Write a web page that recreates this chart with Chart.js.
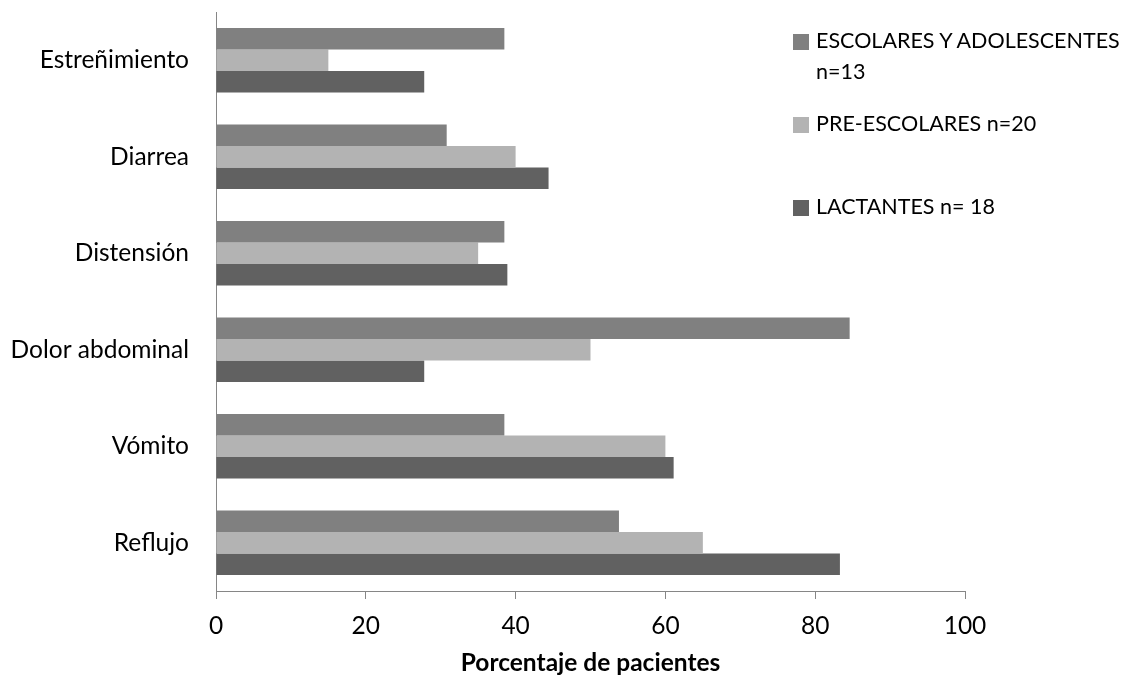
<!DOCTYPE html>
<html>
<head>
<meta charset="utf-8">
<script src="https://cdn.jsdelivr.net/npm/chart.js@4.4.1/dist/chart.umd.min.js"></script>
<style>
  body { margin: 0; background: #fff; }
  #wrap { position: relative; width: 1136px; height: 679px; }
  #legend { position: absolute; left: 793px; top: 0; font-family: Lato, sans-serif; font-size: 21.5px; color: #000; }
  .item { position: absolute; left: 0; width: 343px; display: flex; line-height: 31px; }
  .box { width: 16px; height: 16px; margin-top: 9px; margin-right: 7px; flex: none; }
</style>
</head>
<body>
<div id="wrap">
  <canvas id="chart" width="1136" height="679"></canvas>
  <div id="legend"></div>
</div>
<script>
const categories = ['Estreñimiento', 'Diarrea', 'Distensión', 'Dolor abdominal', 'Vómito', 'Reflujo'];
const escolares = [38.5, 30.8, 38.5, 84.6, 38.5, 53.8];
const preEscolares = [15, 40, 35, 50, 60, 65];
const lactantes = [27.8, 44.4, 38.9, 27.8, 61.1, 83.3];
const seriesNames = ['ESCOLARES Y ADOLESCENTES n=13', 'PRE-ESCOLARES n=20', 'LACTANTES n= 18'];
const seriesColors = ['#808080', '#b3b3b3', '#616161'];
const xTicks = [0, 20, 40, 60, 80, 100];
const legendTops = [25, 108, 191];

Chart.defaults.font.family = 'Lato, sans-serif';
Chart.defaults.font.size = 24.5;
Chart.defaults.color = '#000';

const axisGray = '#868686';

const chart = new Chart(document.getElementById('chart').getContext('2d'), {
    type: 'bar',
    data: {
        labels: categories,
        datasets: [escolares, preEscolares, lactantes].map((d, i) => ({
            label: seriesNames[i],
            data: d,
            backgroundColor: seriesColors[i],
            borderWidth: 0,
            categoryPercentage: 0.667,
            barPercentage: 1
        }))
    },
    options: {
        indexAxis: 'y',
        responsive: false,
        animation: false,
        layout: { padding: { top: 12, right: 171, left: 0, bottom: 0 } },
        plugins: {
            legend: { display: false },
            tooltip: { enabled: false }
        },
        scales: {
            x: {
                min: 0,
                max: 100,
                afterBuildTicks: (scale) => { scale.ticks = xTicks.map(v => ({ value: v })); },
                afterFit: (scale) => { scale.height = 88; },
                grid: { drawOnChartArea: false, drawTicks: true, tickLength: 8, color: axisGray },
                border: { color: axisGray, width: 1 },
                ticks: { padding: 12 },
                title: {
                    display: true,
                    text: 'Porcentaje de pacientes',
                    font: { weight: 'bold', size: 24.5 },
                    padding: { top: 0, bottom: 1 }
                }
            },
            y: {
                afterFit: (scale) => {
                    scale.width = 216;
                    scale.paddingTop = 0;
                    scale.paddingBottom = 0;
                },
                grid: { display: false, drawTicks: false },
                border: { color: axisGray, width: 1 },
                ticks: { padding: 27 }
            }
        }
    }
});

const legend = document.getElementById('legend');
chart.data.datasets.forEach((ds, i) => {
    const item = document.createElement('div');
    item.className = 'item';
    item.style.top = legendTops[i] + 'px';
    item.innerHTML = '<span class="box" style="background:' + ds.backgroundColor + '"></span><span>' + ds.label + '</span>';
    legend.appendChild(item);
});
</script>
</body>
</html>
